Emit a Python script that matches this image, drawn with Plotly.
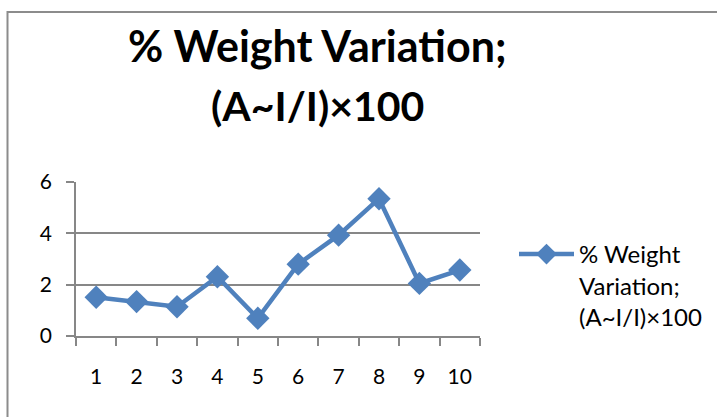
import plotly.graph_objects as go

categories = ["1", "2", "3", "4", "5", "6", "7", "8", "9", "10"]
values = [1.51, 1.34, 1.14, 2.31, 0.69, 2.80, 3.93, 5.35, 2.05, 2.57]
series_name = "% Weight<br>Variation;<br>(A~I/I)×100"
title_lines = ["% Weight Variation;", "(A~I/I)×100"]
y_ticks = [0, 2, 4, 6]

W, H = 717, 417
L, R, T, B = 76, 480, 182, 336
pw, ph = R - L, B - T

def px_x(p):
    return (p - L) / pw

def px_y(p):
    return (B - p) / ph

blue = "#4F81BD"
gray = "#878787"
font = "Lato, 'Open Sans', sans-serif"

fig = go.Figure()
fig.add_trace(go.Scatter(
    x=categories, y=values, mode="lines+markers", name=series_name,
    line=dict(color=blue, width=4.5),
    marker=dict(symbol="diamond", size=18, color=blue),
    showlegend=True,
))

annotations = []
for txt, cy, fs in zip(title_lines, [45, 105], [43, 41]):
    annotations.append(dict(text="<b>" + txt + "</b>", xref="paper", yref="paper",
                            x=px_x(317), y=px_y(cy), xanchor="center", yanchor="middle",
                            showarrow=False,
                            font=dict(family=font, size=fs, color="black")))

fig.update_layout(
    width=W, height=H,
    margin=dict(l=L, r=W - R, t=T, b=H - B, pad=0, autoexpand=False),
    paper_bgcolor="white", plot_bgcolor="white",
    font=dict(family=font, color="black", size=21),
    annotations=annotations,
    xaxis=dict(type="category", range=[-0.5, 9.5], tickson="boundaries",
               ticks="outside", ticklen=8, tickcolor=gray, tickwidth=1.5,
               showline=True, linecolor=gray, linewidth=1.5, showgrid=False,
               zeroline=False, ticklabelstandoff=21,
               tickfont=dict(family=font, size=21, color="black")),
    yaxis=dict(range=[0, 6], tickvals=y_ticks, ticks="outside", ticklen=8,
               tickcolor=gray, tickwidth=1.5, showline=True, linecolor=gray,
               linewidth=1.5, showgrid=True, gridcolor=gray, gridwidth=1.5,
               zeroline=False, ticklabelstandoff=10,
               tickfont=dict(family=font, size=21, color="black")),
    legend=dict(x=px_x(514), y=px_y(232), xanchor="left", yanchor="top",
                valign="top", itemwidth=55, bgcolor="rgba(0,0,0,0)",
                tracegroupgap=0,
                font=dict(family=font, size=24, color="black")),
    shapes=[dict(type="rect", xref="paper", yref="paper",
                 x0=px_x(7.5), y0=px_y(440), x1=px_x(760), y1=px_y(12),
                 line=dict(color="#8c8c8c", width=2), fillcolor="rgba(0,0,0,0)",
                 layer="below")],
)

fig.write_html("out.html")
